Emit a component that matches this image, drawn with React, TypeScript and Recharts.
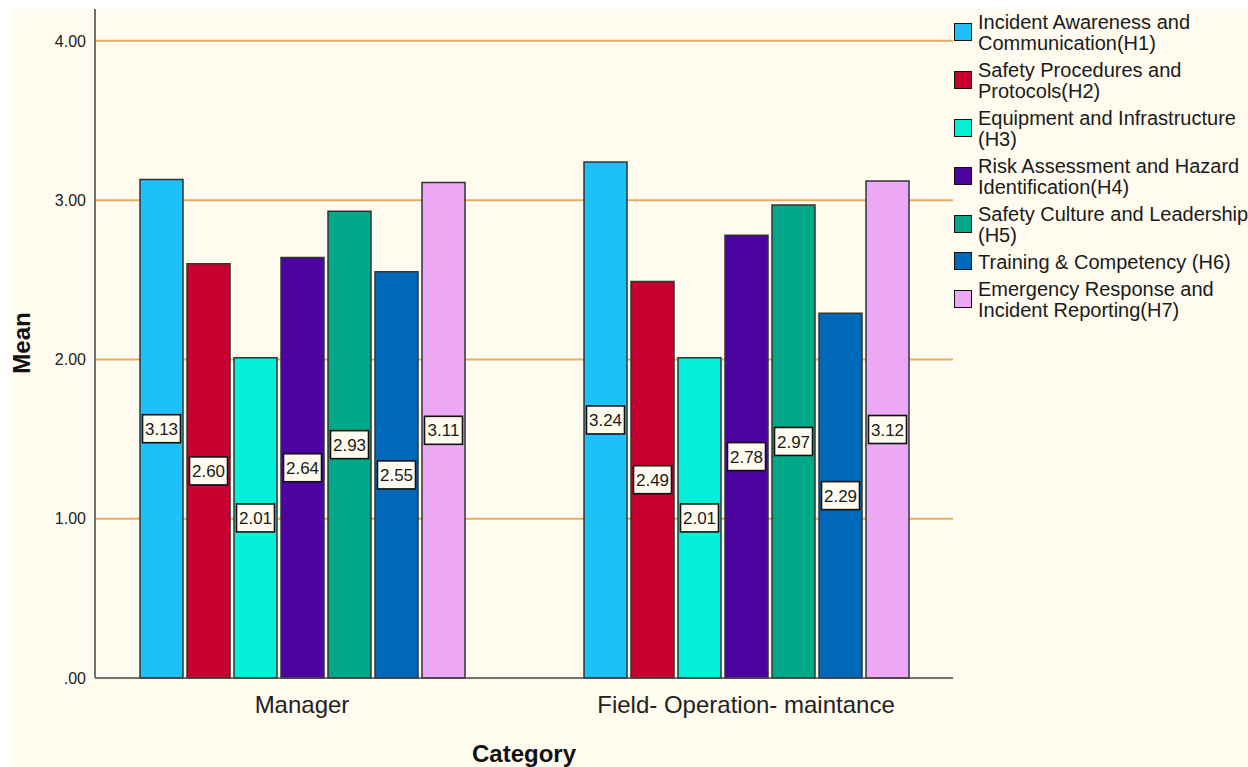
import { BarChart, Bar, XAxis, YAxis, CartesianGrid, LabelList } from 'recharts'

const categories = ['Manager', 'Field- Operation- maintance']

const seriesNames = [
  'Incident Awareness and Communication(H1)',
  'Safety Procedures and Protocols(H2)',
  'Equipment and Infrastructure (H3)',
  'Risk Assessment and Hazard Identification(H4)',
  'Safety Culture and Leadership (H5)',
  'Training & Competency (H6)',
  'Emergency Response and Incident Reporting(H7)',
]

// legend text broken into lines as in the SPSS output
const legendLines = [
  ['Incident Awareness and', 'Communication(H1)'],
  ['Safety Procedures and', 'Protocols(H2)'],
  ['Equipment and Infrastructure', '(H3)'],
  ['Risk Assessment and Hazard', 'Identification(H4)'],
  ['Safety Culture and Leadership', '(H5)'],
  ['Training & Competency (H6)'],
  ['Emergency Response and', 'Incident Reporting(H7)'],
]

const seriesColors = ['#1ec0fa', '#c8002f', '#05f0d8', '#4c04a0', '#00a88a', '#0068b8', '#eca8f4']

const h1 = [3.13, 3.24]
const h2 = [2.6, 2.49]
const h3 = [2.01, 2.01]
const h4 = [2.64, 2.78]
const h5 = [2.93, 2.97]
const h6 = [2.55, 2.29]
const h7 = [3.11, 3.12]

const seriesValues = [h1, h2, h3, h4, h5, h6, h7]
const yTicks = [0, 1, 2, 3, 4]
const gridValues = [1, 2, 3, 4]

const keys = seriesValues.map((_, i) => `h${i + 1}`)

const data = categories.map((category, ci) => {
  const row: Record<string, string | number> = { category }
  seriesValues.forEach((vals, si) => {
    row[keys[si]] = vals[ci]
  })
  return row
})

const BG = '#fffcef'
const FONT = '"Liberation Sans", Arial, sans-serif'

function ValueBox(props: any) {
  const { x, y, width, height, value } = props
  const cx = x + width / 2
  const cy = y + height / 2
  return (
    <g>
      <rect x={cx - 19} y={cy - 14} width={38} height={28} fill={BG} stroke="#111" strokeWidth={1.6} />
      <text x={cx} y={cy} dy="0.36em" textAnchor="middle" fontSize={17} fontFamily={FONT} fill="#1a1a1a">
        {Number(value).toFixed(2)}
      </text>
    </g>
  )
}

function ChartLegend() {
  return (
    <div style={{ position: 'absolute', left: 942, top: 3, fontFamily: FONT, fontSize: 20, lineHeight: '21px', color: '#1a1a1a' }}>
      {legendLines.map((lines, i) => (
        <div key={seriesNames[i]} style={{ display: 'flex', alignItems: 'center', marginBottom: 6 }}>
          <span
            style={{
              width: 16,
              height: 16,
              marginTop: -3,
              background: seriesColors[i],
              border: '1px solid #111',
              flexShrink: 0,
            }}
          />
          <div style={{ marginLeft: 6, whiteSpace: 'nowrap' }}>
            {lines.map((l) => (
              <div key={l}>{l}</div>
            ))}
          </div>
        </div>
      ))}
    </div>
  )
}

export default function App() {
  return (
    <div style={{ position: 'absolute', left: 0, top: 0, width: 1248, height: 767, background: '#fff', overflow: 'hidden' }}>
      <div style={{ position: 'absolute', left: 12, top: 9, width: 1236, height: 758, background: BG }}>
        <BarChart
          width={1236}
          height={758}
          data={data}
          margin={{ top: 0, right: 295, bottom: 29, left: 0 }}
          barGap={4}
          barCategoryGap={60}
        >
          <CartesianGrid horizontal vertical={false} horizontalValues={gridValues} stroke="#e6ad62" strokeWidth={2} />
          <XAxis
            dataKey="category"
            padding={{ left: -15, right: -15 }}
            height={60}
            tickLine={false}
            tickSize={0}
            tickMargin={18}
            axisLine={{ stroke: '#444', strokeWidth: 1.5 }}
            tick={{ fontSize: 24, fontFamily: FONT, fill: '#222' }}
            label={{
              content: (p: any) => (
                <text
                  x={p.viewBox.x + p.viewBox.width / 2}
                  y={p.viewBox.y + p.viewBox.height + 24}
                  textAnchor="middle"
                  fontSize={24}
                  fontWeight="bold"
                  fontFamily={FONT}
                  fill="#111"
                >
                  Category
                </text>
              ),
            }}
          />
          <YAxis
            width={83}
            domain={[0, 4.2]}
            ticks={yTicks}
            interval={0}
            tickLine={false}
            tickSize={0}
            tickMargin={9}
            axisLine={{ stroke: '#707070', strokeWidth: 2 }}
            tick={{ fontSize: 16, fontFamily: FONT, fill: '#222' }}
            tickFormatter={(v: number) => (v === 0 ? '.00' : v.toFixed(2))}
          />
          {keys.map((k, i) => (
            <Bar key={k} dataKey={k} name={seriesNames[i]} fill={seriesColors[i]} stroke="#333" strokeWidth={1.5} isAnimationActive={false}>
              <LabelList dataKey={k} content={ValueBox} />
            </Bar>
          ))}
        </BarChart>
        <ChartLegend />
      </div>
      {/* y axis title, rotated */}
      <div
        style={{
          position: 'absolute',
          left: 22,
          top: 343,
          transform: 'translate(-50%, -50%) rotate(-90deg)',
          fontFamily: FONT,
          fontSize: 24,
          lineHeight: '24px',
          fontWeight: 'bold',
          color: '#111',
          whiteSpace: 'nowrap',
        }}
      >
        Mean
      </div>
    </div>
  )
}
